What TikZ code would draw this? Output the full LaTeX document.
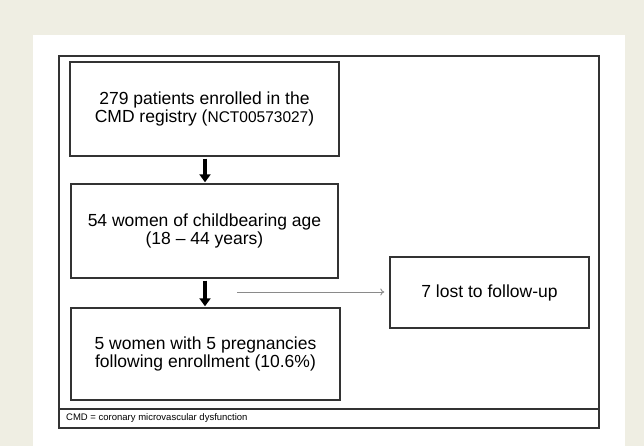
\documentclass[tikz,border=0pt]{standalone}
\usepackage{fontspec}
\setmainfont{Liberation Sans}
\usetikzlibrary{arrows.meta}
\definecolor{bgbeige}{HTML}{EFEEE3}
\definecolor{boxline}{HTML}{333333}
\definecolor{grayarrow}{HTML}{8A8A8A}
\tikzset{
  flowbox/.style={draw=boxline, line width=1.4pt, fill=white, align=center,
    inner sep=0pt, font=\fontsize{17.5}{18.5}\selectfont},
  bigarrow/.style={draw=black, line width=4pt,
    -{Triangle[width=11pt,length=8pt]}, shorten <=2pt, shorten >=1pt},
  thinarrow/.style={draw=grayarrow, line width=0.9pt, -{To[length=4pt,width=7pt]}, shorten >=5pt},
}
\begin{document}
\begin{tikzpicture}[x=1pt,y=-1pt]
\useasboundingbox (0,0) rectangle (644,446);
\fill[bgbeige] (0,0) rectangle (644,446);
\fill[white] (33,35) rectangle (625,446);
% outer frame
\draw[boxline, line width=1.4pt] (59,56) rectangle (599,428);
\draw[boxline, line width=1.4pt] (59,409) -- (599,409);
\node[anchor=west, font=\fontsize{9.5}{11}\selectfont, inner sep=0pt] (foot) at (66,418.5)
  {CMD = coronary microvascular dysfunction};
% boxes
\node[flowbox, minimum width=269pt, minimum height=94pt] (b1) at (204.5,109)
  {279 patients enrolled in the\\CMD registry ({\fontsize{15.5}{18.5}\selectfont NCT00573027})};
\node[flowbox, minimum width=267pt, minimum height=94pt] (b2) at (204.5,231)
  {54 women of childbearing age\\(18 -- 44 years)};
\node[flowbox, minimum width=269pt, minimum height=92pt] (b3) at (205.5,354)
  {5 women with 5 pregnancies\\following enrollment (10.6\%)};
\node[flowbox, minimum width=199pt, minimum height=71pt] (lost) at (489.5,292.5)
  {7 lost to follow-up};
% arrows
\draw[bigarrow] (b1.south -| 205,0) -- (b2.north -| 205,0);
\draw[bigarrow] (b2.south -| 205,0) -- (b3.north -| 205,0);
\coordinate (gstart) at (237,292);
\draw[thinarrow] (gstart) -- (gstart -| lost.west);
\end{tikzpicture}
\end{document}
